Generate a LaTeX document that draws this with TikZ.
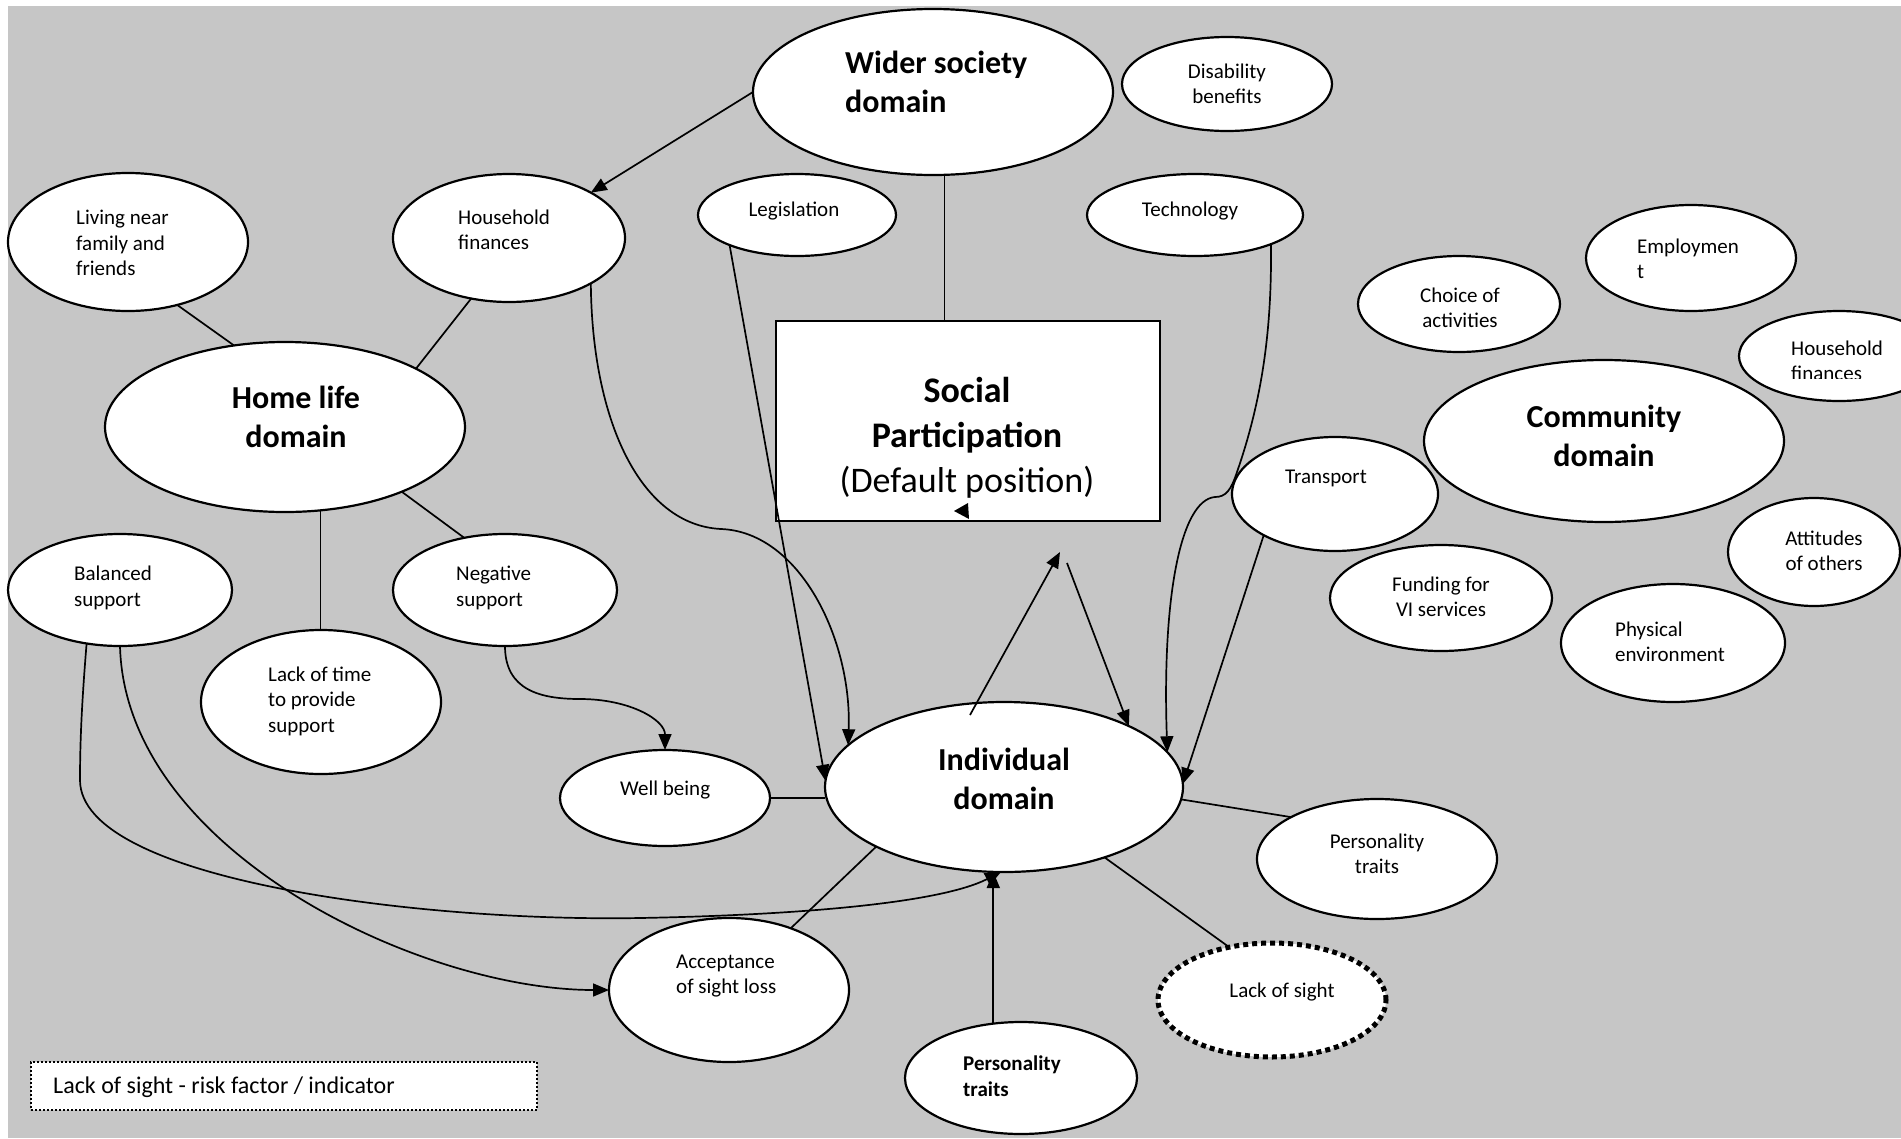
\documentclass[tikz,border=0pt]{standalone}
\usepackage{fontspec}
\setmainfont{Carlito}
\usetikzlibrary{shapes.geometric,arrows.meta,calc}
\definecolor{canvas}{RGB}{198,198,198}
\newcommand{\smalltxt}{\fontsize{21}{25.5}\selectfont}
\newcommand{\domtxt}{\fontsize{32}{39}\selectfont\bfseries}
\newcommand{\boxtxt}{\fontsize{36}{45}\selectfont}
\newcommand{\keytxt}{\fontsize{24}{29}\selectfont}

\begin{document}
\begin{tikzpicture}[x=1pt,y=-1pt,
  bubble/.style={ellipse, draw=black, fill=white, line width=2.2pt, inner sep=0pt, outer sep=0pt},
  riskbubble/.style={bubble, line width=5pt, dash pattern=on 5pt off 4pt},
  lbl/.style={inner sep=0pt, font=\smalltxt, align=left},
  clbl/.style={inner sep=0pt, font=\smalltxt, align=center},
  dom/.style={inner sep=0pt, font=\domtxt, align=center},
  link/.style={line width=1.7pt},
  arr/.style={link, -{Triangle[length=16pt,width=13pt]}}]

\useasboundingbox (0,0) rectangle (1901,1138);
\clip (0,0) rectangle (1901,1138);
\fill[white] (0,0) rectangle (1901,1138);
\fill[canvas] (8,6) rectangle (1901,1138);

% ---- ellipses ----
\node[bubble, minimum width=360pt, minimum height=166pt] (wider) at (933,92) {};
\node[bubble, minimum width=210pt, minimum height=94pt]  (dis)   at (1227,84) {};
\node[bubble, minimum width=240pt, minimum height=138pt] (liv)   at (128,242) {};
\node[bubble, minimum width=232pt, minimum height=128pt] (hfl)   at (509,238) {};
\node[bubble, minimum width=360pt, minimum height=170pt] (home)  at (285,427) {};
\node[bubble, minimum width=198pt, minimum height=82pt]  (leg)   at (797,215) {};
\node[bubble, minimum width=216pt, minimum height=82pt]  (tech)  at (1195,215) {};
\node[bubble, minimum width=210pt, minimum height=106pt] (emp)   at (1691,258) {};
\node[bubble, minimum width=202pt, minimum height=96pt]  (cho)   at (1459,304) {};
\node[bubble, minimum width=200pt, minimum height=90pt]  (hfr)   at (1839,356) {};
\node[bubble, minimum width=360pt, minimum height=162pt] (com)   at (1604,441) {};
\node[bubble, minimum width=206pt, minimum height=114pt] (tra)   at (1335,494) {};
\node[bubble, minimum width=172pt, minimum height=108pt] (att)   at (1814,552) {};
\node[bubble, minimum width=222pt, minimum height=106pt] (fun)   at (1441,598) {};
\node[bubble, minimum width=224pt, minimum height=118pt] (phy)   at (1673,643) {};
\node[bubble, minimum width=224pt, minimum height=112pt] (bal)   at (120,590) {};
\node[bubble, minimum width=224pt, minimum height=112pt] (neg)   at (505,590) {};
\node[bubble, minimum width=240pt, minimum height=144pt] (lt)    at (321,702) {};
\node[bubble, minimum width=210pt, minimum height=96pt]  (wb)    at (665,798) {};
\node[bubble, minimum width=358pt, minimum height=170pt] (ind)   at (1004,787) {};
\node[bubble, minimum width=240pt, minimum height=120pt] (pr)    at (1377,859) {};
\node[bubble, minimum width=240pt, minimum height=144pt] (acc)   at (729,990) {};
\node[bubble, minimum width=232pt, minimum height=112pt] (pb)    at (1021,1078) {};
\node[riskbubble, minimum width=228pt, minimum height=114pt] (ls) at (1272,1000) {};

% ---- central box ----
\node[draw=black, fill=white, line width=2.2pt, inner sep=0pt, outer sep=0pt,
      minimum width=384pt, minimum height=200pt] (box) at (968,421) {};

% ---- key ----
\node[draw=black, fill=white, line width=1.5pt, dash pattern=on 2pt off 2pt,
      inner sep=0pt, minimum width=506pt, minimum height=48pt] (key) at (284,1086) {};

% ---- texts ----
\node[dom, align=left, anchor=west] (wider-t) at (845,82) {Wider society\\domain};
\node[clbl] (dis-t) at (1227,84) {Disability\\benefits};
\node[lbl, anchor=west] (liv-t) at (76,243) {Living near\\family and\\friends};
\node[lbl, anchor=west] (hfl-t) at (458,230) {Household\\finances};
\node[dom] (home-t) at (296,417) {Home life\\domain};
\node[clbl] (leg-t) at (794,211) {Legislation};
\node[clbl] (tech-t) at (1190,211) {Technology};
\node[inner sep=0pt, font=\boxtxt, align=center] (box-t) at (967,438)
     {\textbf{Social}\\\textbf{Participation}\\(Default position)};
\node[lbl, anchor=west] (emp-t) at (1637,259) {Employmen\\t};
\node[clbl] (cho-t) at (1460,308) {Choice of\\activities};
\begin{scope}
  \clip (1700,300) rectangle (1901,378);
  \node[lbl, anchor=west] (hfr-t) at (1791,361) {Household\\finances};
\end{scope}
\node[dom] (com-t) at (1604,436) {Community\\domain};
\node[clbl] (tra-t) at (1326,478) {Transport};
\node[clbl] (att-t) at (1824,551) {Attitudes\\of others};
\node[clbl] (fun-t) at (1441,597) {Funding for\\VI services};
\node[lbl, anchor=west] (phy-t) at (1615,642) {Physical\\environment};
\node[lbl, anchor=west] (bal-t) at (74,588) {Balanced\\support};
\node[lbl, anchor=west] (neg-t) at (456,588) {Negative\\support};
\node[lbl, anchor=west] (lt-t) at (268,701) {Lack of time\\to provide\\support};
\node[lbl, anchor=west] (wb-t) at (620,790) {Well being};
\node[dom] (ind-t) at (1004,779) {Individual\\domain};
\node[clbl] (pr-t) at (1377,854) {Personality\\traits};
\node[lbl, anchor=west] (acc-t) at (676,976) {Acceptance\\of sight loss};
\node[lbl, anchor=west, font=\smalltxt\bfseries] (pb-t) at (963,1076) {Personality\\traits};
\node[clbl] (ls-t) at (1282,992) {Lack of sight};
\node[inner sep=0pt, font=\keytxt, anchor=west] (key-t) at (53,1087) {Lack of sight - risk factor / indicator};

% ---- free ends ----
\coordinate (apexL) at (1060,552);
\coordinate (apexR) at (1067,563);

% ---- connectors ----
\draw[arr] (wider.180) -- (hfl.29);
\draw[link] (wider.-82) -- (wider.-82 |- box.north);
\draw[link] (liv.-52) -- (home.122);
\draw[link] (hfl.-122) -- (home.24);
\draw[link] (home.-67) -- (home.-67 |- lt.north);
\draw[link] (home.-29.5) -- (neg.128);
\draw[arr] (hfl.-29.5) .. controls (592,420) and (640,525) .. (721,529)
                       .. controls (800,532) and (852,640) .. (ind.165);
\draw[arr] (leg.-156) -- (ind.178);
\draw[arr] (tech.-21) .. controls (1272,330) and (1262,400) .. (1237,472)
                      .. controls (1231,490) and (1226,497) .. (1215,497)
                      .. controls (1180,500) and (1162,600) .. (ind.12);
\draw[arr] (tra.-150) -- (ind.1);
\draw[arr] ([shift={(-34,-72)}]ind.center) -- (apexL);
\draw[arr] (apexR) -- (ind.26);
\fill (954,511) -- (968,503) -- (969,519) -- cycle;
\draw[arr] (neg.south) .. controls (505,690) and (540,699) .. (580,699)
                       .. controls (630,699) and (665,720) .. (wb.north);
\draw[link] (wb.east) -- (wb.east -| ind.west);
\draw[arr] (bal.-122) .. controls (82,700) and (80,740) .. (80,780)
                      .. controls (80,880) and (420,922) .. (640,918)
                      .. controls (800,915) and (940,903) .. (ind.-92);
\draw[arr] (bal.south) .. controls (125,850) and (420,990) .. (acc.west);
\draw[link] (ind.-155.6) -- (acc.45);
\draw[arr] (pb.117) -- (pb.117 |- ind.south);
\draw[link] (ind.-35) -- (ls.129);
\draw[link] (ind.-4.5) -- (pr.154);
\end{tikzpicture}
\end{document}
